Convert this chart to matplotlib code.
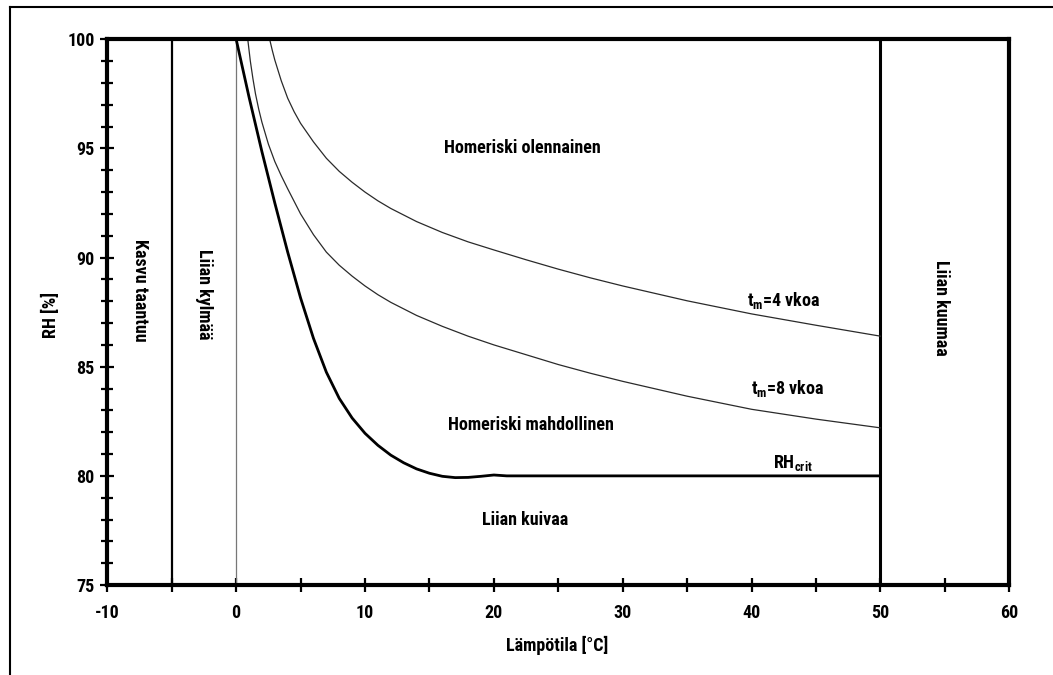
import matplotlib
matplotlib.use("Agg")
import matplotlib.pyplot as plt
from matplotlib.lines import Line2D
from matplotlib.ticker import MultipleLocator

plt.rcParams["font.family"] = ["Roboto Condensed", "Liberation Sans", "DejaVu Sans"]
plt.rcParams["font.weight"] = "bold"
plt.rcParams["axes.unicode_minus"] = False

# --- data -----------------------------------------------------------------
temp_crit = [0, 1, 2, 3, 4, 5, 6, 7, 8, 9, 10, 11, 12, 13, 14, 15, 16, 17,
             18, 19, 20, 21, 50]
rh_crit = [100, 97.35, 94.85, 92.5, 90.25, 88.15, 86.3, 84.75, 83.55, 82.65,
           81.95, 81.4, 80.95, 80.6, 80.32, 80.12, 79.98, 79.92, 79.93, 79.98,
           80.04, 80.0, 80.0]

temp_4w = [2.6, 2.8, 3, 3.5, 4, 4.5, 5, 6, 7, 8, 9, 10, 11, 12, 13, 14, 16,
           18, 20, 22.5, 25, 27.5, 30, 35, 40, 45, 50]
rh_4w = [100, 99.5, 99.05, 98.1, 97.3, 96.68, 96.15, 95.3, 94.55, 93.95,
         93.45, 93.0, 92.6, 92.25, 91.95, 91.65, 91.15, 90.72, 90.35, 89.9,
         89.47, 89.07, 88.7, 88.02, 87.42, 86.9, 86.4]

temp_8w = [0.9, 1.1, 1.3, 1.5, 1.75, 2, 2.5, 3, 3.5, 4, 5, 6, 7, 8, 9, 10,
           11, 12, 14, 16, 18, 20, 22.5, 25, 27.5, 30, 35, 40, 45, 50]
rh_8w = [100, 99.0, 98.2, 97.5, 96.8, 96.2, 95.2, 94.4, 93.75, 93.15, 92.0,
         91.05, 90.25, 89.65, 89.15, 88.7, 88.3, 87.95, 87.35, 86.85, 86.4,
         86.0, 85.55, 85.1, 84.7, 84.33, 83.65, 83.05, 82.6, 82.2]

# zone boundaries (temperature)
t_stall = -5
t_cold = 0
t_hot = 50

fig = plt.figure(figsize=(10.53, 6.75), dpi=100)
fig.patch.set_facecolor("white")
ax = fig.add_axes([0.1019, 0.1333, 0.8566, 0.8085])

ax.set_xlim(-10, 60)
ax.set_ylim(75, 100)

# zone lines
ax.axvline(t_stall, color="black", lw=1.6)
ax.axvline(t_cold, color="#777777", lw=0.9)
ax.axvline(t_hot, color="black", lw=2.2)

ax.plot(temp_4w, rh_4w, color="#2a2a2a", lw=0.9)
ax.plot(temp_8w, rh_8w, color="#2a2a2a", lw=0.9)
ax.plot(temp_crit, rh_crit, color="black", lw=2.0)

for s in ax.spines.values():
    s.set_linewidth(3.0)

ax.xaxis.set_major_locator(MultipleLocator(10))
ax.xaxis.set_minor_locator(MultipleLocator(5))
ax.yaxis.set_major_locator(MultipleLocator(5))
ax.yaxis.set_minor_locator(MultipleLocator(1))
ax.tick_params(which="both", direction="inout", width=1.6, length=10,
               labelsize=13)
ax.tick_params(axis="y", which="both", pad=4)
ax.tick_params(axis="x", which="both", pad=9)
ax.tick_params(axis="y", which="minor", length=9)

ax.set_xlabel("Lämpötila [°C]", fontsize=13, fontweight="bold", va="center")
ax.set_ylabel("RH [%]", fontsize=13, fontweight="bold", va="center")
ax.xaxis.set_label_coords(0.499, -0.11)
ax.yaxis.set_label_coords(-0.0625, 0.494)

txt = dict(fontsize=13, fontweight="bold", ha="center", va="center")
ax.text(-7.5, 88.5, "Kasvu taantuu", rotation=-90, **txt)
ax.text(-2.5, 88.3, "Liian kylmää", rotation=-90, **txt)
ax.text(54.7, 87.7, "Liian kuumaa", rotation=-90, **txt)
ax.text(22.2, 95.0, "Homeriski olennainen", **txt)
ax.text(22.85, 82.35, "Homeriski mahdollinen", **txt)
ax.text(22.4, 78.0, "Liian kuivaa", **txt)
ax.text(42.5, 88.05, r"t$_\mathregular{m}$=4 vkoa", **txt)
ax.text(42.8, 84.0, r"t$_\mathregular{m}$=8 vkoa", **txt)
ax.text(43.2, 80.6, r"RH$_\mathregular{crit}$", **txt)

# partial outer frame (top and left edges visible in the source image)
fig.add_artist(Line2D([10 / 1053, 10 / 1053], [0, 1 - 7 / 675],
                      transform=fig.transFigure, color="black", lw=1.5))
fig.add_artist(Line2D([10 / 1053, 1], [1 - 7 / 675, 1 - 7 / 675],
                      transform=fig.transFigure, color="black", lw=1.5))

fig.savefig("out.png", dpi=100)
